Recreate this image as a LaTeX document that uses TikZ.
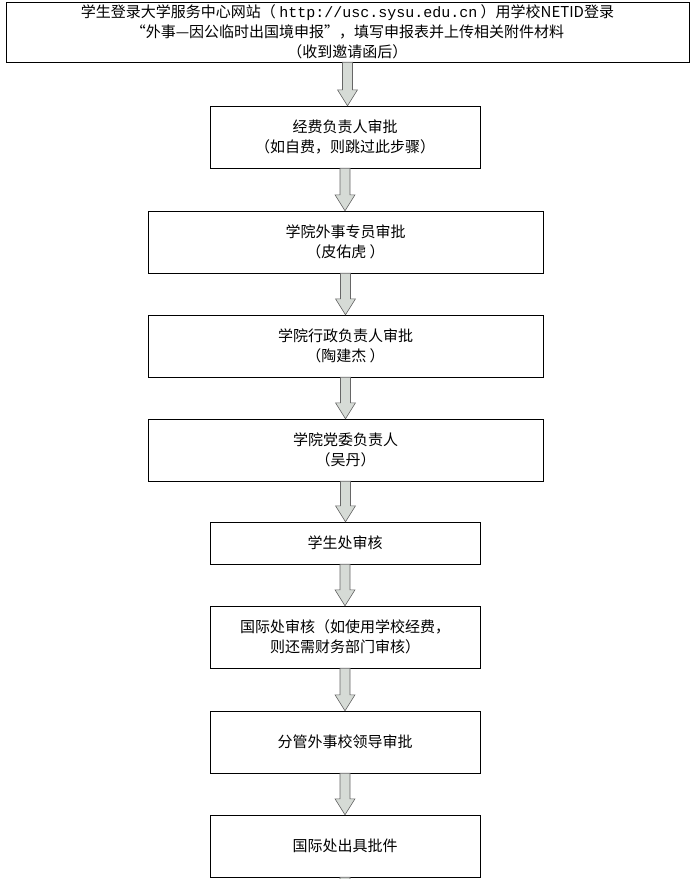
\documentclass[tikz,border=0pt]{standalone}
\usepackage{fontspec}
\setmainfont{Noto Sans CJK SC}
\newfontfamily\urlfont{Liberation Mono}
\usetikzlibrary{calc}

\begin{document}
\begin{tikzpicture}[x=1pt,y=-1pt,
			stepbox/.style={draw,thin,align=center,inner sep=0pt,font=\fontsize{15}{20}\selectfont},
			flow/.style={draw=black!60,fill=black!10!green!8!gray!30,line width=0.6pt}]
		\clip (0,0) rectangle (692,879);
		\useasboundingbox (0,0) rectangle (692,879);

		\node [stepbox, minimum width=683, minimum height=60] (apply) at (347.5,32) {学生登录大学服务中心网站（ {\urlfont http://usc.sysu.edu.cn} ）用学校NETID登录\\“外事—因公临时出国境申报”，填写申报表并上传相关附件材料\\（收到邀请函后）};
		\node [stepbox, minimum width=270, minimum height=62] (fund) at (345,137) {经费负责人审批\\（如自费，则跳过此步骤）};
		\node [stepbox, minimum width=395, minimum height=62] (officer) at (345.5,242) {学院外事专员审批\\（皮佑虎 ）};
		\node [stepbox, minimum width=395, minimum height=62] (dean) at (345.5,346) {学院行政负责人审批\\（陶建杰 ）};
		\node [stepbox, minimum width=395, minimum height=62] (party) at (345.5,450) {学院党委负责人\\（吴丹）};
		\node [stepbox, minimum width=270, minimum height=42] (student) at (345,543) {学生处审核};
		\node [stepbox, minimum width=270, minimum height=62] (intl) at (345,637) {国际处审核（如使用学校经费，\\则还需财务部门审核）};
		\node [stepbox, minimum width=270, minimum height=62] (leader) at (345,742) {分管外事校领导审批};
		\node [stepbox, minimum width=270, minimum height=62] (issue) at (345,846) {国际处出具批件};
		\coordinate (next) at (345,920);

		% hollow block arrows between the steps
		\foreach \a/\b in {apply/fund,fund/officer,officer/dean,dean/party,party/student,student/intl,intl/leader,leader/issue,issue/next}
			\path let \p1=(\a.south), \p2=(\b.north) in
				[flow] (\x1-5,\y1) -- (\x1+5,\y1) -- (\x1+5,\y2+16) -- (\x1+10,\y2+16)
				-- (\x1,\y2) -- (\x1-10,\y2+16) -- (\x1-5,\y2+16) -- cycle;
\end{tikzpicture}
\end{document}
